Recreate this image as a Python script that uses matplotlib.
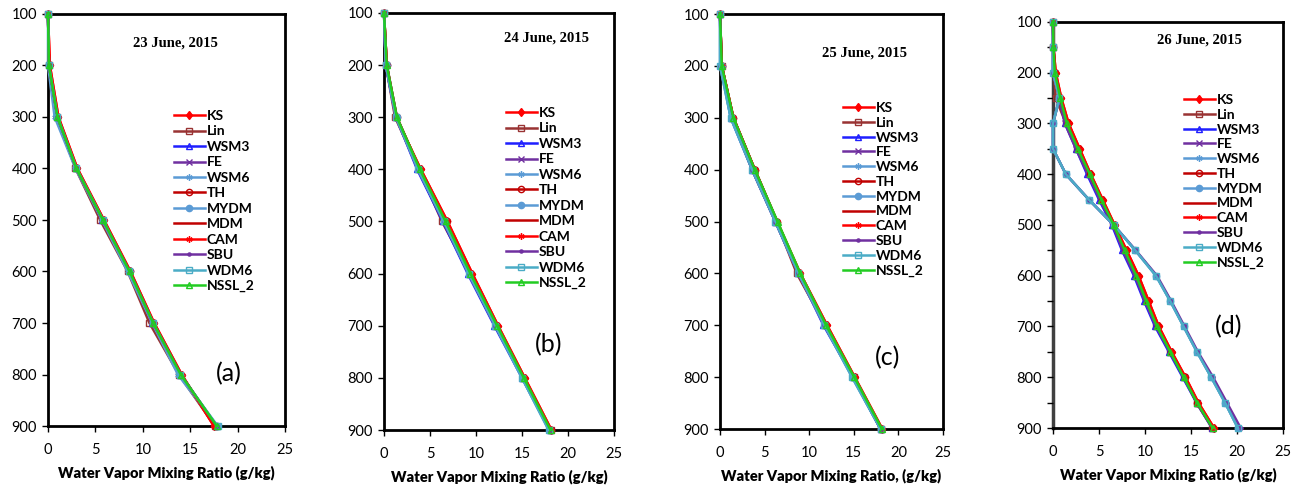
import matplotlib
matplotlib.use("Agg")
import matplotlib.pyplot as plt
from matplotlib.ticker import MultipleLocator

plt.rcParams['font.family'] = ['Lato', 'DejaVu Sans']

models = ["KS", "Lin", "WSM3", "FE", "WSM6", "TH", "MYDM", "MDM", "CAM", "SBU", "WDM6", "NSSL_2"]
colors = ["#FF0000", "#993333", "#1F1FFF", "#7030A0", "#5B9BD5", "#C00000",
          "#5B9BD5", "#C00000", "#FF0000", "#7030A0", "#4BACC6", "#22CC22"]
markers = ["d", "s", "^", "x", (6, 2, 0), "o", "o", None, (6, 2, 0), ".", "s", "^"]
fills = ["full", "none", "none", "full", "full", "none", "full", "full", "full", "full", "none", "none"]

titles = ["23 June, 2015", "24 June, 2015", "25 June, 2015", "26 June, 2015"]
letters = ["(a)", "(b)", "(c)", "(d)"]
xlabels = ["Water Vapor Mixing Ratio (g/kg)", "Water Vapor Mixing Ratio (g/kg)",
           "Water Vapor Mixing Ratio, (g/kg)", "Water Vapor Mixing Ratio (g/kg)"]

# pressure levels (hPa)
p_abc = [100, 200, 300, 400, 500, 600, 700, 800, 900]
p_d = [100, 150, 200, 250, 300, 350, 400, 450, 500, 550, 600, 650, 700, 750, 800, 850, 900]

# Panel (a) mixing ratio (g/kg)
qa = {
    "KS":     [0.0, 0.2, 1.1, 3.1, 5.9, 8.7, 11.2, 14.1, 17.5],
    "Lin":    [0.0, 0.1, 0.9, 2.9, 5.5, 8.4, 10.7, 13.8, 17.6],
    "WSM3":   [0.0, 0.1, 1.0, 3.0, 5.7, 8.5, 11.0, 13.9, 17.8],
    "FE":     [0.0, 0.1, 1.0, 3.0, 5.7, 8.5, 11.0, 13.9, 17.8],
    "WSM6":   [0.0, 0.0, 0.7, 2.9, 5.7, 8.4, 11.0, 13.7, 17.8],
    "TH":     [0.0, 0.1, 1.0, 3.0, 5.8, 8.6, 11.1, 14.0, 17.7],
    "MYDM":   [0.0, 0.1, 1.0, 3.0, 5.8, 8.6, 11.1, 14.0, 17.8],
    "MDM":    [0.0, 0.1, 1.0, 3.0, 5.8, 8.6, 11.1, 14.0, 17.7],
    "CAM":    [0.0, 0.2, 1.1, 3.1, 5.9, 8.7, 11.2, 14.1, 17.5],
    "SBU":    [0.0, 0.1, 1.0, 3.0, 5.8, 8.6, 11.1, 14.0, 17.8],
    "WDM6":   [0.0, 0.1, 1.0, 3.0, 5.8, 8.5, 11.1, 13.9, 17.9],
    "NSSL_2": [0.0, 0.1, 1.0, 3.0, 5.8, 8.6, 11.1, 14.0, 17.8],
}
# Panel (b)
qb = {
    "KS":     [0.0, 0.3, 1.3, 4.0, 6.9, 9.6, 12.4, 15.3, 18.2],
    "Lin":    [0.0, 0.2, 1.2, 3.8, 6.3, 9.3, 12.2, 15.1, 18.1],
    "WSM3":   [0.0, 0.2, 1.3, 3.6, 6.4, 9.1, 12.0, 15.0, 18.0],
    "FE":     [0.0, 0.2, 1.3, 3.7, 6.5, 9.2, 12.1, 15.1, 18.0],
    "WSM6":   [0.0, 0.2, 1.3, 3.7, 6.5, 9.2, 12.1, 15.0, 17.9],
    "TH":     [0.0, 0.3, 1.4, 3.9, 6.8, 9.5, 12.3, 15.2, 18.1],
    "MYDM":   [0.0, 0.3, 1.4, 3.8, 6.6, 9.3, 12.2, 15.1, 18.0],
    "MDM":    [0.0, 0.3, 1.4, 3.9, 6.8, 9.5, 12.3, 15.2, 18.1],
    "CAM":    [0.0, 0.3, 1.3, 4.0, 6.9, 9.6, 12.4, 15.3, 18.2],
    "SBU":    [0.0, 0.2, 1.3, 3.7, 6.5, 9.2, 12.1, 15.1, 18.0],
    "WDM6":   [0.0, 0.2, 1.3, 3.7, 6.5, 9.2, 12.1, 15.0, 17.9],
    "NSSL_2": [0.0, 0.3, 1.4, 3.9, 6.7, 9.4, 12.3, 15.2, 18.1],
}
# Panel (c)
qc = {
    "KS":     [0.0, 0.2, 1.5, 3.9, 6.4, 9.0, 12.0, 15.1, 18.2],
    "Lin":    [0.0, 0.2, 1.4, 3.8, 6.3, 8.6, 11.8, 15.0, 18.1],
    "WSM3":   [0.0, 0.1, 1.2, 3.6, 6.2, 8.8, 11.6, 14.9, 18.0],
    "FE":     [0.0, 0.1, 1.3, 3.6, 6.2, 8.8, 11.7, 14.9, 18.0],
    "WSM6":   [0.0, 0.0, 1.2, 3.6, 6.2, 8.8, 11.7, 14.8, 18.0],
    "TH":     [0.0, 0.2, 1.5, 3.9, 6.4, 8.9, 11.9, 15.0, 18.1],
    "MYDM":   [0.0, 0.2, 1.4, 3.8, 6.3, 8.9, 11.8, 14.9, 18.0],
    "MDM":    [0.0, 0.2, 1.5, 3.9, 6.4, 8.9, 11.9, 15.0, 18.1],
    "CAM":    [0.0, 0.2, 1.5, 3.9, 6.4, 9.0, 12.0, 15.1, 18.2],
    "SBU":    [0.0, 0.1, 1.3, 3.6, 6.2, 8.8, 11.7, 14.9, 18.0],
    "WDM6":   [0.0, 0.0, 1.2, 3.6, 6.2, 8.8, 11.7, 14.8, 18.0],
    "NSSL_2": [0.0, 0.2, 1.5, 3.9, 6.45, 9.0, 11.9, 15.05, 18.15],
}
# Panel (d)
qd = {
    "KS":     [0.0, 0.05, 0.3, 0.9, 1.7, 2.9, 4.1, 5.4, 6.7, 8.0, 9.3, 10.4, 11.5, 12.9, 14.4, 15.8, 17.5],
    "Lin":    [0.0, 0.0, 0.1, 0.3, 1.4, 2.6, 3.9, 5.2, 6.5, 7.7, 9.0, 10.1, 11.2, 12.7, 14.2, 15.6, 17.3],
    "WSM3":   [0.0, 0.05, 0.2, 0.7, 1.3, 2.5, 3.7, 5.0, 6.4, 7.5, 8.8, 9.9, 11.1, 12.6, 14.1, 15.6, 17.3],
    "FE":     [0.0, 0.05, 0.2, 0.7, 1.3, 2.5, 3.8, 5.1, 6.5, 7.6, 8.9, 10.0, 11.2, 12.7, 14.2, 15.6, 17.3],
    "WSM6":   [0.0, 0.0, 0.0, 0.7, 0.0, 0.0, 1.4, 3.9, 6.6, 8.95, 11.2, 12.75, 14.2, 15.65, 17.2, 18.7, 20.1],
    "TH":     [0.0, 0.05, 0.2, 0.8, 1.6, 2.8, 4.0, 5.3, 6.6, 7.9, 9.2, 10.3, 11.4, 12.8, 14.3, 15.7, 17.4],
    "MYDM":   [0.0, 0.0, 0.0, 0.7, 0.0, 0.0, 1.4, 3.9, 6.6, 8.95, 11.2, 12.75, 14.2, 15.65, 17.2, 18.7, 20.1],
    "MDM":    [0.0, 0.05, 0.2, 0.8, 1.6, 2.8, 4.0, 5.3, 6.6, 7.9, 9.2, 10.3, 11.4, 12.8, 14.3, 15.7, 17.4],
    "CAM":    [0.0, 0.05, 0.3, 0.9, 1.7, 2.9, 4.1, 5.4, 6.7, 8.0, 9.3, 10.4, 11.5, 12.9, 14.4, 15.8, 17.5],
    "SBU":    [0.0, 0.0, 0.0, 0.7, 0.0, 0.0, 1.4, 3.9, 6.6, 9.0, 11.3, 12.85, 14.3, 15.75, 17.4, 18.9, 20.4],
    "WDM6":   [0.0, 0.0, 0.0, 0.7, 0.0, 0.0, 1.4, 3.9, 6.6, 8.95, 11.2, 12.75, 14.2, 15.65, 17.2, 18.7, 20.1],
    "NSSL_2": [0.0, 0.05, 0.2, 0.8, 1.5, 2.7, 4.0, 5.25, 6.6, 7.8, 9.05, 10.15, 11.3, 12.75, 14.2, 15.65, 17.35],
}

panels = [(p_abc, qa), (p_abc, qb), (p_abc, qc), (p_d, qd)]

W, H = 1306, 486
fig = plt.figure(figsize=(W / 100, H / 100), dpi=100)

# axes boxes in pixels: left, right, top, bottom
boxes = [(48, 285, 14, 426), (384, 614, 13, 430), (720, 943, 14, 429), (1053, 1283, 22, 428)]
title_pos = [(175, 43), (547, 38), (864, 53), (1199, 40)]
letter_pos = [(229, 374), (549, 345), (888, 358), (1229, 327)]
legend_pos = [(174, 110), (506, 107), (843, 102), (1184, 94)]
legend_space = [0.25, 0.25, 0.2, 0.2]

for i, (pres, q) in enumerate(panels):
    l, r, t, b = boxes[i]
    ax = fig.add_axes([l / W, 1 - b / H, (r - l) / W, (b - t) / H])
    for m, c, mk, fs in zip(models, colors, markers, fills):
        ax.plot(q[m], pres, color=c, lw=1.8, marker=mk, ms=4.5, fillstyle=fs,
                mew=1.0, label=m, clip_on=False)
    ax.set_xlim(0, 25)
    ax.set_ylim(900, 100)
    ax.xaxis.set_major_locator(MultipleLocator(5))
    ax.yaxis.set_major_locator(MultipleLocator(100))
    if i == 3:
        ax.yaxis.set_minor_locator(MultipleLocator(50))
        ax.tick_params(axis='y', which='minor', direction='out', length=4, width=1)
    ax.tick_params(axis='both', which='major', direction='out', length=4, width=1,
                   labelsize=10.5, colors='black')
    ax.tick_params(axis='x', pad=8)
    ax.tick_params(axis='y', pad=4)
    for s in ax.spines.values():
        s.set_linewidth(2.0)
        s.set_color('black')
        s.set_zorder(1)
    if i == 3:
        ax.spines['left'].set_color('#404040')
        ax.spines['left'].set_linewidth(2.5)
    ax.set_xlabel(xlabels[i], fontsize=10.5, fontweight='heavy', labelpad=6)
    tx, ty = title_pos[i]
    fig.text(tx / W, 1 - ty / H, titles[i], family='Liberation Serif', fontweight='bold',
             fontsize=10.5, ha='center', va='center')
    lx, ly = letter_pos[i]
    fig.text(lx / W, 1 - ly / H, letters[i], fontsize=18, ha='center', va='center')
    gx, gy = legend_pos[i]
    ax.legend(loc='upper left', bbox_to_anchor=(gx / W, 1 - gy / H),
              bbox_transform=fig.transFigure, frameon=False,
              prop={'weight': 'bold', 'size': 10}, handlelength=2.2,
              handletextpad=0.15, labelspacing=legend_space[i], borderpad=0,
              borderaxespad=0, numpoints=1)

fig.savefig("out.png", dpi=100)
